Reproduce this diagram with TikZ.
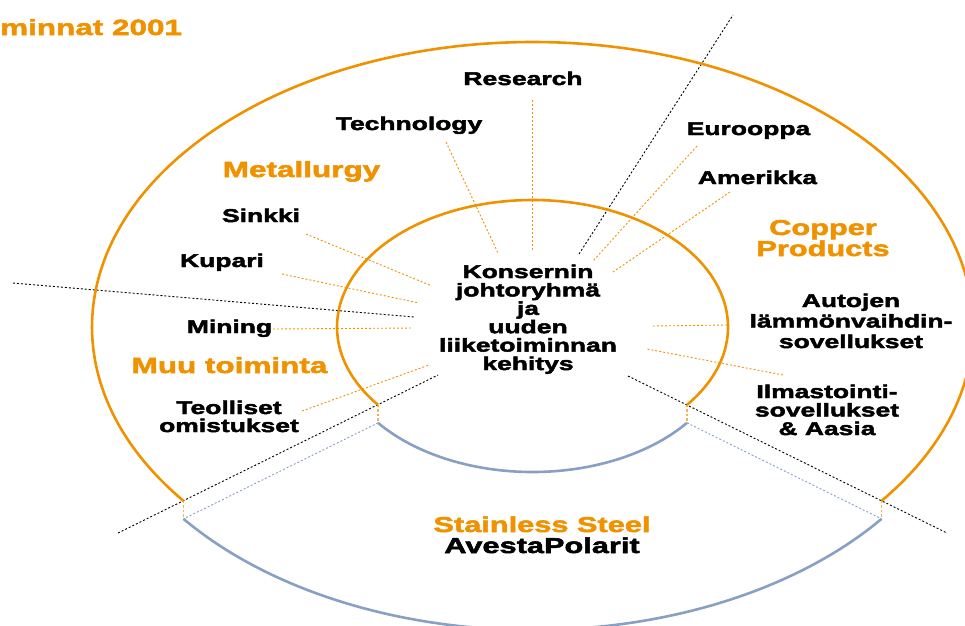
\documentclass[tikz,border=0pt]{standalone}
\usepackage{fontspec}
\setmainfont{Liberation Sans}[FakeStretch=1.43, BoldFeatures={FakeBold=2.5}]
\usetikzlibrary{calc}
\definecolor{org}{RGB}{240,146,0}
\definecolor{stl}{RGB}{136,160,196}
\begin{document}
\begin{tikzpicture}[x=1pt,y=-1pt,
  lab/.style={font=\bfseries\fontsize{18.5}{18.5}\selectfont, inner sep=0pt, align=center, anchor=base},
  head/.style={lab, text=org, font=\bfseries\fontsize{21.5}{20}\selectfont},
  ring/.style={draw=org, line width=2.6pt},
  steelring/.style={draw=stl, line width=2.6pt},
  oline/.style={draw=org, line width=0.9pt, dash pattern=on 2pt off 2pt},
  kline/.style={draw=black, line width=0.9pt, dash pattern=on 2pt off 2pt},
  bline/.style={draw=stl, line width=0.9pt, dash pattern=on 2pt off 2pt},
  cut/.style={draw=org!70, line width=1.2pt, dash pattern=on 2.5pt off 2pt}]
\useasboundingbox (0,0) rectangle (965,625);
\clip (0,0) rectangle (965,625);
\coordinate (C) at (532.5,327);
% cut points
\path (C) ++(-37.6:440.5pt and 285pt) coordinate (oR);
\path (C) ++(217.6:440.5pt and 285pt) coordinate (oL);
\path (C) ++(-37.8:195.5pt and 127pt) coordinate (iR);
\path (C) ++(217.8:195.5pt and 127pt) coordinate (iL);
\coordinate (boR) at ($(oR)+(0,18)$);
\coordinate (boL) at ($(oL)+(0,18)$);
\coordinate (biR) at ($(iR)+(0,18)$);
\coordinate (biL) at ($(iL)+(0,18)$);
% black dotted sector lines
\coordinate (k1a) at (13,283);  \coordinate (k1b) at (414,317);
\coordinate (k2a) at (118,533); \coordinate (k2b) at (438,375);
\coordinate (k3a) at (628,376); \coordinate (k3b) at (947,533);
\coordinate (k4a) at (579,254); \coordinate (k4b) at (733,15);
\draw[kline] (k1a) -- (k1b);
\draw[kline] (k2a) -- (k2b);
\draw[kline] (k3a) -- (k3b);
\draw[kline] (k4a) -- (k4b);
% blue dashed and orange cut lines
\draw[bline] (biL) -- (boL);
\draw[bline] (biR) -- (boR);
\draw[cut] (oL) -- (boL);
\draw[cut] (iL) -- (biL);
\draw[cut] (oR) -- (boR);
\draw[cut] (iR) -- (biR);
% rings
\draw[ring] (oR) arc[start angle=-37.6, end angle=217.6, x radius=440.5pt, y radius=285pt];
\draw[ring] (iR) arc[start angle=-37.8, end angle=217.8, x radius=195.5pt, y radius=127pt];
\draw[steelring] (boL) arc[start angle=217.6, end angle=322.4, x radius=440.5pt, y radius=285pt];
\draw[steelring] (biL) arc[start angle=217.8, end angle=322.2, x radius=195.5pt, y radius=127pt];
% labels
\node[head, anchor=base west, font=\bfseries\fontsize{22}{22}\selectfont] (title) at (0,35) {minnat 2001};
\node[lab] (research) at (523,85) {Research};
\node[lab] (technology) at (409,130) {Technology};
\node[head, font=\bfseries\fontsize{22}{20}\selectfont] (metallurgy) at (301.5,177) {Metallurgy};
\node[lab] (sinkki) at (261,222) {Sinkki};
\node[lab] (kupari) at (222,267) {Kupari};
\node[lab] (mining) at (229.5,333) {Mining};
\node[head, font=\bfseries\fontsize{22}{20}\selectfont] (muu) at (229.5,373) {Muu toiminta};
\node[lab, font=\bfseries\fontsize{18.5}{18}\selectfont] (teolliset) at (229,432) {Teolliset\\omistukset};
\node[lab, font=\bfseries\fontsize{18.5}{18.4}\selectfont] (center) at (528,370) {Konsernin\\johtoryhmä\\ja\\uuden\\liiketoiminnan\\kehitys};
\node[lab] (eurooppa) at (748.5,135) {Eurooppa};
\node[lab] (amerikka) at (757.5,184) {Amerikka};
\node[head, font=\bfseries\fontsize{21.5}{19}\selectfont] (copper) at (823,256) {Copper\\Products};
\node[lab, font=\bfseries\fontsize{18.5}{20.5}\selectfont] (autojen) at (851,348) {Autojen\\lämmönvaihdin-\\sovellukset};
\node[lab] (ilmasto) at (827,435) {Ilmastointi-\\sovellukset\\\& Aasia};
\node[head, font=\bfseries\fontsize{21.5}{21}\selectfont] (stainless) at (542,532) {Stainless Steel};
\node[lab, font=\bfseries\fontsize{21.5}{21}\selectfont] (avesta) at (542,553) {AvestaPolarit};
% connector end points
\coordinate (rA) at (532.5,100); \coordinate (rB) at (532.5,250);
\coordinate (tA) at (446,142);   \coordinate (tB) at (498,253);
\coordinate (eA) at (697,146);   \coordinate (eB) at (593,261);
\coordinate (aA) at (730,192);   \coordinate (aB) at (613,272);
\coordinate (sA) at (306,234);   \coordinate (sB) at (432,286);
\coordinate (kA) at (282,274);   \coordinate (kB) at (419,303);
\coordinate (mA) at (273,329);   \coordinate (mB) at (413,328);
\coordinate (oA) at (302,411);   \coordinate (oB) at (429,365);
\coordinate (auA) at (727,325);  \coordinate (auB) at (652,326);
\coordinate (ilA) at (783,375);  \coordinate (ilB) at (647,349);
\draw[oline] (rA) -- (rB);
\draw[oline] (tA) -- (tB);
\draw[oline] (eA) -- (eB);
\draw[oline] (aA) -- (aB);
\draw[oline] (sA) -- (sB);
\draw[oline] (kA) -- (kB);
\draw[oline] (mA) -- (mB);
\draw[oline] (oA) -- (oB);
\draw[oline] (auA) -- (auB);
\draw[oline] (ilA) -- (ilB);
\end{tikzpicture}
\end{document}
